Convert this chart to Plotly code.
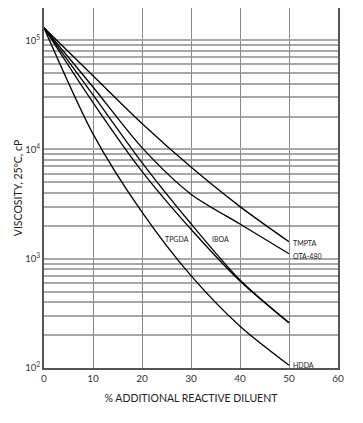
import math
import plotly.graph_objects as go

# % additional reactive diluent
diluent_pct = [0, 10, 20, 30, 40, 50]

# viscosity, cP
tmpta = [130000, 47300, 17300, 6900, 3000, 1430]
ota480 = [130000, 37300, 10400, 3900, 2080, 1110]
iboa = [130000, 31600, 7590, 2090, 640, 259]
tpgda = [130000, 26900, 6310, 1860, 625, 259]
hdda = [130000, 13900, 2670, 700, 241, 106]

series_names = ["TMPTA", "OTA-480", "IBOA", "TPGDA", "HDDA"]
series_values = [tmpta, ota480, iboa, tpgda, hdda]

x_ticks = [0, 10, 20, 30, 40, 50, 60]
decades = [100, 1000, 10000, 100000]
decade_labels = ["10<sup>2</sup>", "10<sup>3</sup>", "10<sup>4</sup>", "10<sup>5</sup>"]

FONT = "Lato, 'Open Sans', sans-serif"

fig = go.Figure()
for name, vals in zip(series_names, series_values):
    fig.add_trace(go.Scatter(
        x=diluent_pct, y=vals, mode="lines", name=name,
        line=dict(color="black", width=1.3, shape="spline", smoothing=0.8),
        showlegend=False, hoverinfo="skip"))

# curve labels
label_pos = {
    "TMPTA": (50.4, 1400, "left"),
    "OTA-480": (50.4, 1070, "left"),
    "HDDA": (50.4, 106, "left"),
    "TPGDA": (27.1, 1530, "center"),
    "IBOA": (36.1, 1530, "center"),
}
for name, (lx, ly, anchor) in label_pos.items():
    fig.add_annotation(x=lx, y=math.log10(ly), text=name, showarrow=False,
                       xanchor=anchor, yanchor="middle",
                       font=dict(family=FONT, size=7, color="#222"))

# the page body adds an 8px offset, so the figure is sized to fit inside
fig.update_layout(
    width=355, height=415,
    margin=dict(l=36, r=25, t=0, b=55),
    paper_bgcolor="white", plot_bgcolor="white",
    font=dict(family=FONT, color="#333"),
)
fig.update_xaxes(
    automargin=False,
    range=[0, 60], tickvals=x_ticks, ticktext=[str(v) for v in x_ticks],
    showgrid=True, gridcolor="#8a8a8a", gridwidth=1,
    showline=True, linecolor="#555", linewidth=2, mirror=True,
    ticks="", zeroline=False,
    tickfont=dict(size=10, color="#333"),
    title=dict(text="% ADDITIONAL REACTIVE DILUENT", font=dict(size=10.5, color="#222"), standoff=12),
)
fig.update_yaxes(
    automargin=False,
    type="log", range=[2, 5.295],
    tickvals=decades, ticktext=decade_labels,
    showgrid=True, gridcolor="#a8a8a8", gridwidth=1.5,
    minor=dict(dtick="D1", showgrid=True, gridcolor="#a8a8a8", gridwidth=1.5, ticks=""),
    showline=True, linecolor="#555", linewidth=2, mirror=True,
    ticks="", zeroline=False,
    tickfont=dict(size=9.5, color="#333"),
    title=dict(text="VISCOSITY, 25ºC, cP", font=dict(size=10.5, color="#222"), standoff=1),
)

fig.write_html("out.html")
